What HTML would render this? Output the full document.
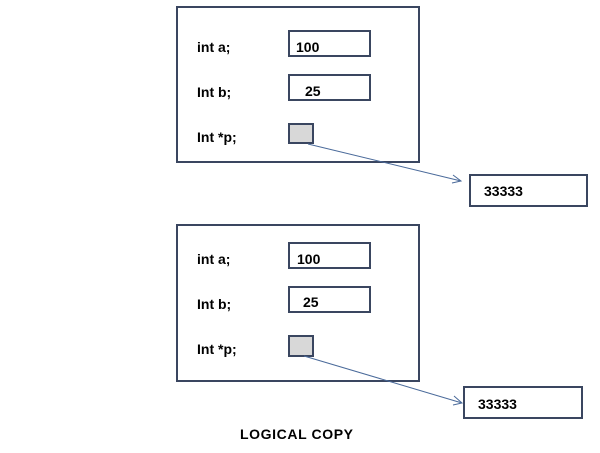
<!DOCTYPE html>
<html><head><style>
body{margin:0;background:#fff}
svg text{font-family:"Liberation Sans",sans-serif;font-weight:bold;font-size:14px;fill:#000}
</style></head><body>
<svg width="600" height="448" viewBox="0 0 600 448" xmlns="http://www.w3.org/2000/svg">
<g fill="none" stroke="#3a4660" stroke-width="2">
<rect x="177" y="7" width="242" height="155" fill="#fff"/>
<rect x="289" y="31" width="81" height="25"/>
<rect x="289" y="75" width="81" height="25"/>
<rect x="289" y="124" width="24" height="19" fill="#d8d8d8"/>
<rect x="470" y="175" width="117" height="31"/>
<rect x="177" y="225" width="242" height="156" fill="#fff"/>
<rect x="289" y="243" width="81" height="25"/>
<rect x="289" y="287" width="81" height="25"/>
<rect x="289" y="336" width="24" height="20" fill="#d8d8d8"/>
<rect x="464" y="387" width="118" height="31"/>
</g>
<g stroke="#4a6a9a" stroke-width="1" fill="none">
<line x1="308" y1="144" x2="461" y2="181"/>
<polyline points="453,175 461,181 452,183"/>
<line x1="304" y1="356" x2="462" y2="403"/>
<polyline points="454,396 462,403 453,405"/>
</g>
<text x="197" y="52">int a;</text><text x="296" y="52" font-size="15">100</text>
<text x="197" y="97">Int b;</text><text x="305" y="96" font-size="15">25</text>
<text x="197" y="142">Int *p;</text>
<text x="484" y="196">33333</text>
<text x="197" y="264">int a;</text><text x="297" y="264" font-size="15">100</text>
<text x="197" y="309">Int b;</text><text x="303" y="307" font-size="15">25</text>
<text x="197" y="354">Int *p;</text>
<text x="478" y="409">33333</text>
<text x="240" y="439" font-size="13" textLength="113">LOGICAL COPY</text>
</svg>
</body></html>
